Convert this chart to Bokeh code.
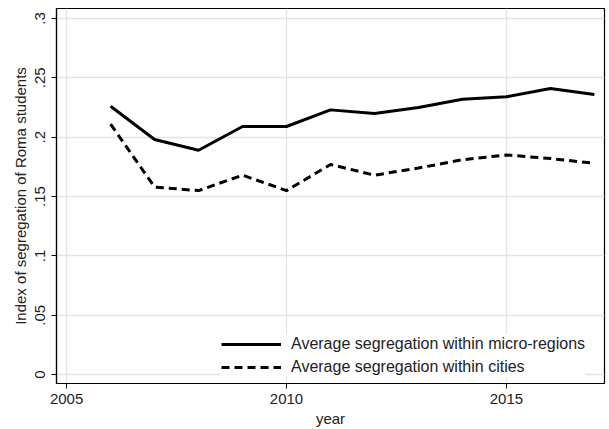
from bokeh.plotting import figure
from bokeh.models import ColumnDataSource, FixedTicker, Range1d, Legend, LegendItem
from bokeh.embed import file_html
from bokeh.resources import INLINE

years = [2006, 2007, 2008, 2009, 2010, 2011, 2012, 2013, 2014, 2015, 2016, 2017]
micro_regions = [0.226, 0.198, 0.189, 0.209, 0.209, 0.223, 0.220, 0.225, 0.232, 0.234, 0.241, 0.236]
cities = [0.211, 0.158, 0.155, 0.168, 0.155, 0.177, 0.168, 0.174, 0.181, 0.185, 0.182, 0.178]

x_ticks = [2005, 2010, 2015]
y_ticks = [0, 0.05, 0.1, 0.15, 0.2, 0.25, 0.3]
y_tick_labels = ["0", ".05", ".1", ".15", ".2", ".25", ".3"]

FONT = "Liberation Sans"

src = ColumnDataSource(dict(year=years, micro=micro_regions, cities=cities))

p = figure(width=609, height=429, output_backend="svg", toolbar_location=None,
           x_range=Range1d(2004.77, 2017.23), y_range=Range1d(-0.0075, 0.3084),
           min_border_left=56, min_border_right=5, min_border_top=8, min_border_bottom=44)

p.background_fill_color = "white"
p.border_fill_color = "white"
p.outline_line_color = "black"
p.outline_line_width = 1.2

p.xaxis.ticker = FixedTicker(ticks=x_ticks)
p.yaxis.ticker = FixedTicker(ticks=y_ticks)
p.yaxis.major_label_overrides = {t: l for t, l in zip(y_ticks, y_tick_labels)}
p.yaxis.major_label_orientation = "vertical"

for ax in (p.xaxis[0], p.yaxis[0]):
    ax.axis_line_color = "black"
    ax.axis_line_width = 1.2
    ax.major_tick_line_color = "black"
    ax.major_tick_in = 0
    ax.major_tick_out = 5
    ax.minor_tick_line_color = None
    ax.major_label_text_font = FONT
    ax.major_label_text_font_size = "15px"
    ax.major_label_text_color = "#222222"
    ax.axis_label_text_font = FONT
    ax.axis_label_text_font_size = "15px"
    ax.axis_label_text_font_style = "normal"
    ax.axis_label_text_color = "#222222"

p.xaxis.axis_label = "year"
p.xaxis.axis_label_standoff = 3
p.xaxis.major_label_standoff = 5
p.yaxis.axis_label = "Index of segregation of Roma students"
p.yaxis.axis_label_standoff = 4
p.yaxis.major_label_standoff = 6

p.xgrid.grid_line_color = "#e3e3e3"
p.ygrid.grid_line_color = "#e3e3e3"
p.xgrid.grid_line_width = 1.3
p.ygrid.grid_line_width = 1.3

r1 = p.line("year", "micro", source=src, line_color="black", line_width=3)
r2 = p.line("year", "cities", source=src, line_color="black", line_width=3, line_dash="8 5")

legend = Legend(items=[LegendItem(label="Average segregation within micro-regions", renderers=[r1]),
                       LegendItem(label="Average segregation within cities", renderers=[r2])],
                location=(165, 6))
legend.glyph_width = 60
legend.glyph_height = 20
legend.label_standoff = 10
legend.spacing = 3
legend.padding = 6
legend.border_line_color = None
legend.background_fill_color = "white"
legend.background_fill_alpha = 1
legend.label_text_font = FONT
legend.label_text_font_size = "16px"
legend.label_text_color = "#222222"
p.add_layout(legend)

open("out.html", "w").write(file_html(p, INLINE))
